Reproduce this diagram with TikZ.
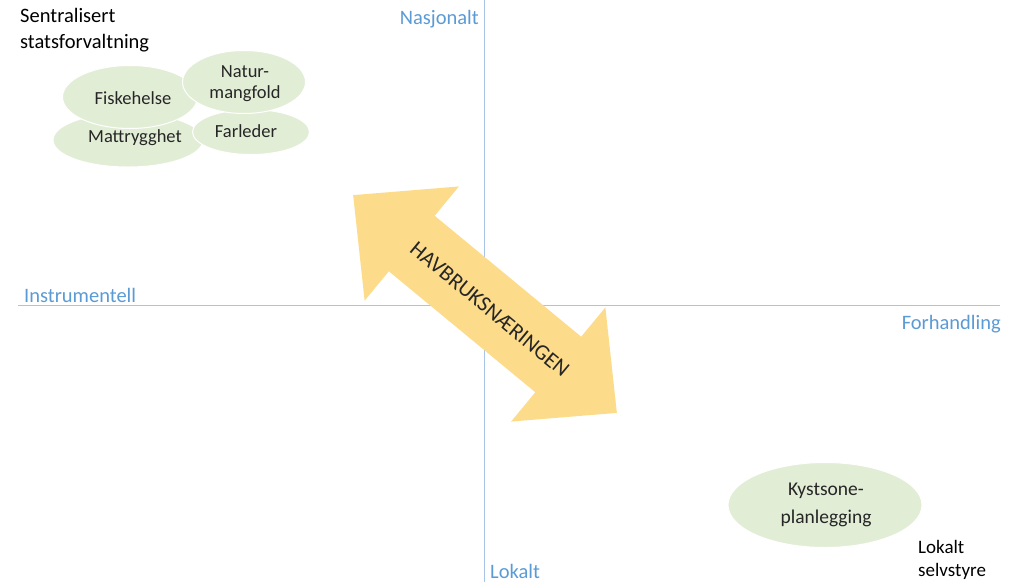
\documentclass[tikz,border=0pt]{standalone}
\usepackage{fontspec}
\setmainfont{Carlito}
\definecolor{axisblue}{HTML}{A8C4E6}
\definecolor{labelblue}{HTML}{5B9BD5}
\definecolor{ellgreen}{HTML}{E2EDD6}
\definecolor{arrowgold}{HTML}{FCDB8A}
\definecolor{txt}{HTML}{262626}
\tikzset{
  axisline/.style={draw=axisblue, line width=1pt},
  axislabel/.style={text=labelblue, font=\fontsize{20.5}{24}\selectfont, inner sep=0pt},
  blob/.style={ellipse, fill=ellgreen, draw=white, line width=1pt},
  blobtext/.style={text=txt, font=\fontsize{18.5}{21}\selectfont, align=center, inner sep=0pt},
  cornertext/.style={text=black, font=\fontsize{20.5}{26}\selectfont, align=left, inner sep=0pt, anchor=north west},
}
\usetikzlibrary{shapes.geometric}
\begin{document}
\begin{tikzpicture}[x=1pt,y=-1pt]
\useasboundingbox[fill=white] (0,0) rectangle (1022,582);
% axes
\coordinate (vt) at (484,0);
\coordinate (vb) at (484,582);
\coordinate (hl) at (18,305);
\coordinate (hr) at (1000,305);
\draw[axisline] (vt) -- (vb);
\draw[axisline] (hl) -- (hr);
\node[axislabel, anchor=base east] (nas) at (479,24) {Nasjonalt};
\node[axislabel, anchor=base west] (ins) at (24,302) {Instrumentell};
\node[axislabel, anchor=base east] (for) at (1001,329) {Forhandling};
\node[axislabel, anchor=base west] (lok) at (490,578) {Lokalt};
% top-left cluster
\node[blob, minimum width=150, minimum height=54] (mat) at (128,140) {};
\node[blob, minimum width=117, minimum height=45] (far) at (251,132) {};
\node[blob, minimum width=135, minimum height=63] (fis) at (130,97) {};
\node[blob, minimum width=123, minimum height=63] (nat) at (244,82) {};
\node[blobtext] (matt) at (135,138) {Mattrygghet};
\node[blobtext] (fart) at (246,131) {Farleder};
\node[blobtext] (fist) at (133,98) {Fiskehelse};
\node[blobtext] (natt) at (245,84) {Natur-\\mangfold};
\node[cornertext] (sen) at (20,8) {Sentralisert\\statsforvaltning};
% bottom-right
\node[blob, minimum width=194, minimum height=85] (kys) at (825,505) {};
\node[blobtext, font=\fontsize{19.5}{28}\selectfont] (kyst) at (826,505) {Kystsone-\\planlegging};
\node[cornertext, font=\fontsize{19}{23}\selectfont] (sel) at (918,540) {Lokalt\\selvstyre};
% double arrow
\begin{scope}[shift={(485,304)}, rotate=-39.55]
\fill[arrowgold] (-171,0) -- (-95,-74) -- (-95,-36) -- (95,-36) -- (95,-74) -- (171,0)
  -- (95,74) -- (95,36) -- (-95,36) -- (-95,74) -- cycle;
\node[text=txt, font=\fontsize{22}{26}\selectfont, inner sep=0pt, transform shape] (hav) at (7,1) {HAVBRUKSNÆRINGEN};
\end{scope}
\end{tikzpicture}
\end{document}
